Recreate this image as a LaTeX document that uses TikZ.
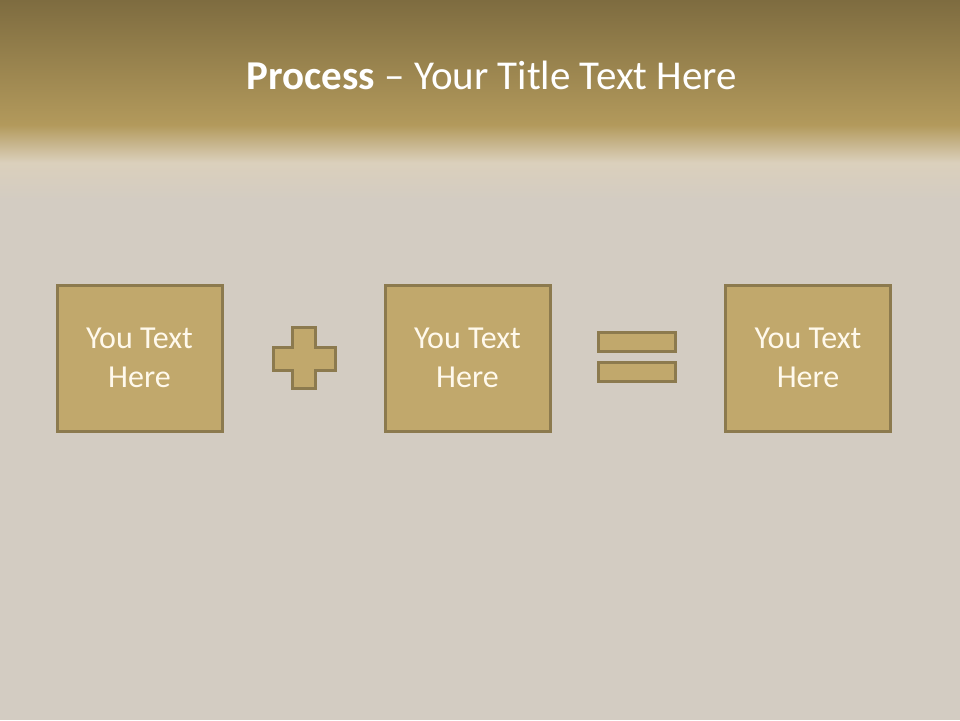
\documentclass[tikz,border=0pt]{standalone}
\usepackage{fontspec}
\setmainfont{Carlito}
\usetikzlibrary{positioning}
\definecolor{bandtop}{HTML}{7E6C40}
\definecolor{bandbot}{HTML}{B39A5C}
\definecolor{paper}{HTML}{D3CCC2}
\definecolor{paperlt}{HTML}{DBD0BC}
\definecolor{boxfill}{HTML}{C1A86C}
\definecolor{boxline}{HTML}{8C7A4E}
\definecolor{boxtext}{HTML}{FFF9EC}
\tikzset{
  every picture/.style={line join=miter},
  txtbox/.style={draw=boxline, fill=boxfill, line width=3pt, minimum width=165pt,
    minimum height=146pt, inner sep=0pt, align=center, text=boxtext,
    font=\fontsize{32}{39}\selectfont},
  signshape/.style={draw=boxline, fill=boxfill, line width=3pt},
}
\begin{document}
\begin{tikzpicture}[x=1pt,y=-1pt]
\useasboundingbox (0,0) rectangle (960,720);
% background
\fill[paper] (0,0) rectangle (960,720);
\shade[top color=bandtop, bottom color=bandbot] (0,0) rectangle (960,126);
\shade[top color=bandbot, bottom color=paper, middle color=paperlt] (0,125) rectangle (960,200);
% title
\node[text=white, font=\fontsize{41}{46}\selectfont] (title) at (492,75)
  {\textbf{Process} -- Your Title Text Here};
% boxes
\node[txtbox] (left) at (139.5,358) {You Text\\Here};
\node[txtbox] (mid) at (467.5,358) {You Text\\Here};
\node[txtbox] (right) at (808,358) {You Text\\Here};
% plus
\draw[signshape] (292,327)--(315,327)--(315,347)--(335,347)--(335,370)--(315,370)
  --(315,388)--(292,388)--(292,370)--(273,370)--(273,347)--(292,347)--cycle;
% equals
\draw[signshape] (598,332) rectangle (675,351);
\draw[signshape] (598,362) rectangle (675,381);
\end{tikzpicture}
\end{document}
